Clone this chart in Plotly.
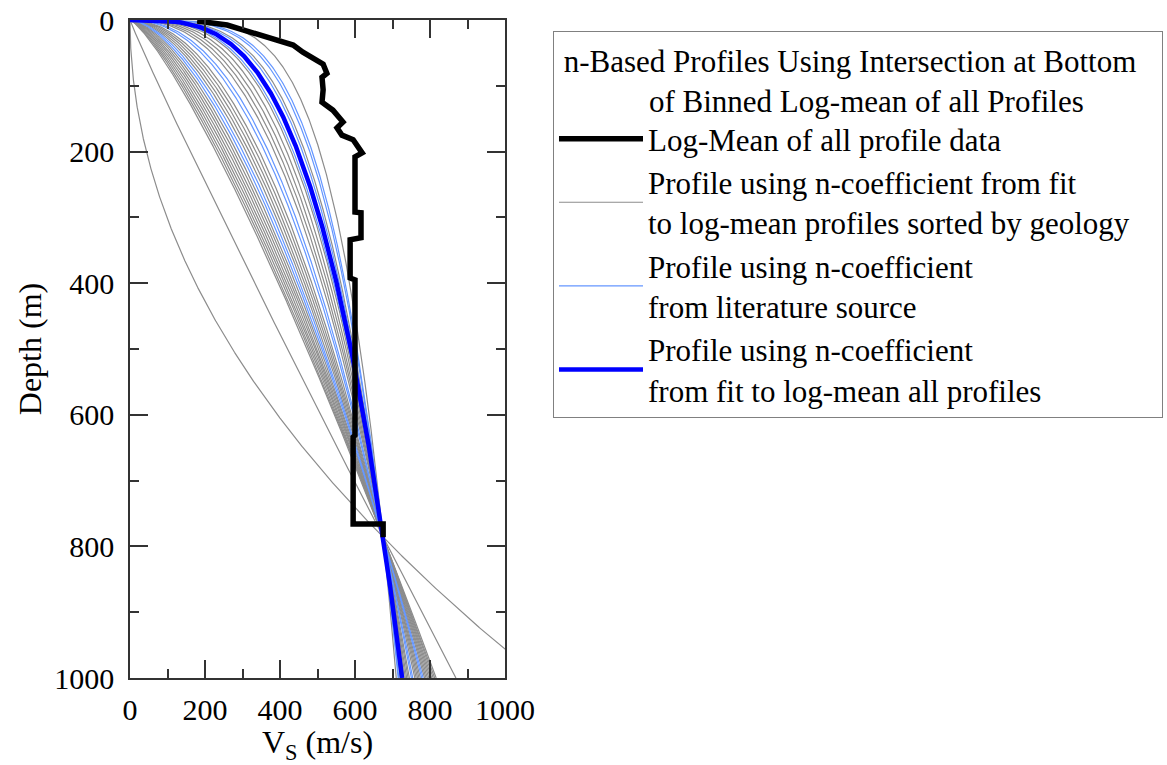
import numpy as np
import plotly.graph_objects as go

# ---- data ----
V_BOTTOM = 675.0      # m/s, intersection velocity at bottom of binned log-mean
Z_BOTTOM = 786.0      # m, intersection depth
blue_n = 0.30         # n from fit to log-mean of all profiles
gray_n = [2.0, 1.05, 0.79, 0.77, 0.75, 0.73, 0.71, 0.69, 0.67, 0.65, 0.63,
          0.57, 0.55, 0.53, 0.51, 0.49, 0.41, 0.39, 0.37, 0.35, 0.33, 0.27, 0.21]
lit_n = [0.61, 0.59, 0.46, 0.44, 0.32, 0.28, 0.25, 0.24]

logmean_vs = [179, 208, 259, 301, 347, 392, 435, 461, 488, 515, 525, 512, 515, 512,
              541, 568, 552, 565, 595, 619, 600, 600, 616, 616, 587, 587, 600, 600,
              595, 595, 675, 675]
logmean_depth = [1.5, 3, 7.6, 15, 23, 30, 38, 49, 59, 67, 81, 87, 106, 125,
                 137, 155, 164, 175, 182, 202, 208, 292, 293, 331, 334, 392, 395, 631,
                 634, 766, 766, 786]

x_ticks = [0, 200, 400, 600, 800, 1000]
y_ticks = [0, 200, 400, 600, 800, 1000]

depth = np.linspace(0, 1000, 801)


def profile(n):
    return V_BOTTOM * (depth / Z_BOTTOM) ** n


FONT = "Liberation Serif"
GRAY = "rgb(140,140,140)"
LIGHTBLUE = "rgb(100,150,255)"
BLUE = "rgb(0,0,255)"

fig = go.Figure()

for i, n in enumerate(gray_n):
    fig.add_trace(go.Scatter(
        x=profile(n), y=depth, mode="lines",
        line=dict(color=GRAY, width=1.2),
        name="Profile using n-coefficient from fit<br>to log-mean profiles sorted by geology",
        legendgroup="geo", showlegend=(i == 0), legendrank=2, hoverinfo="skip"))

for i, n in enumerate(lit_n):
    fig.add_trace(go.Scatter(
        x=profile(n), y=depth, mode="lines",
        line=dict(color=LIGHTBLUE, width=1.2),
        name="Profile using n-coefficient<br>from literature source",
        legendgroup="lit", showlegend=(i == 0), legendrank=3, hoverinfo="skip"))

fig.add_trace(go.Scatter(
    x=profile(blue_n), y=depth, mode="lines",
    line=dict(color=BLUE, width=4.5),
    name="Profile using n-coefficient<br>from fit to log-mean all profiles",
    legendrank=4))

fig.add_trace(go.Scatter(
    x=logmean_vs, y=logmean_depth, mode="lines",
    line=dict(color="black", width=5.5),
    name="Log-Mean of all profile data", legendrank=1))

axis_common = dict(
    showgrid=False, zeroline=False, showline=True, linecolor="#333333", linewidth=1.5,
    ticks="inside", ticklen=18, tickwidth=1.5, tickcolor="#333333", mirror="ticks",
    minor=dict(ticks="inside", ticklen=9, tickwidth=1.5, tickcolor="#333333", dtick=100),
    tickfont=dict(family=FONT, size=30, color="black"),
)

fig.update_xaxes(range=[0, 1000], tickvals=x_ticks, ticklabelstandoff=4,
                 automargin=True,
                 title=dict(text="V<sub>S</sub> (m/s)", font=dict(family=FONT, size=32),
                            standoff=7),
                 **axis_common)
fig.update_yaxes(range=[1000, 0], tickvals=y_ticks, ticklabelstandoff=8,
                 automargin=False,
                 title=dict(text="Depth (m)", font=dict(family=FONT, size=32), standoff=3),
                 **axis_common)

NB = "\u00a0"
fig.update_layout(
    width=1167, height=765,
    margin=dict(l=130, r=662, t=20, b=87, autoexpand=False),
    plot_bgcolor="white", paper_bgcolor="white",
    font=dict(family=FONT, size=31, color="black"),
    showlegend=True,
    legend=dict(
        x=1.128, y=0.984, xanchor="left", yanchor="top",
        bordercolor="#808080", borderwidth=1, bgcolor="white",
        font=dict(family=FONT, size=31, color="black"),
        title=dict(text=NB + "n-Based Profiles Using Intersection at Bottom" + NB * 3 + "<br>"
                   + NB * 12 + "of Binned Log-mean of all Profiles",
                   font=dict(family=FONT, size=31), side="top"),
        itemwidth=84, tracegroupgap=0,
    ),
)

fig.write_html("out.html")
